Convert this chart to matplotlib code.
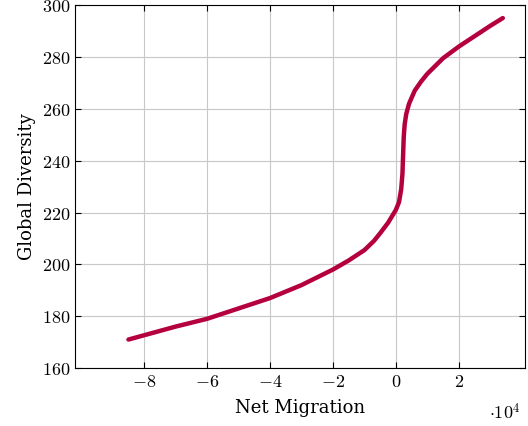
import matplotlib
matplotlib.use("Agg")
import matplotlib.pyplot as plt

plt.rcParams['mathtext.fontset'] = 'cm'
plt.rcParams['font.family'] = ['DejaVu Serif']

x_vals = [-8.5, -7, -6, -5, -4, -3, -2, -1.5, -1, -0.7, -0.5, -0.25, 0, 0.1, 0.17, 0.21, 0.23, 0.25, 0.28, 0.33, 0.42, 0.6, 0.8, 1.0, 1.5, 2.0, 2.5, 3.0, 3.4]
y_vals = [171, 176, 179, 183, 187, 192, 198, 201.5, 205.5, 209, 212, 216, 221, 224, 229, 235, 242, 249, 254, 258, 262, 267, 270.5, 273.5, 279.5, 284, 288, 292, 295]
x_ticks = [-8, -6, -4, -2, 0, 2]
y_ticks = [160, 180, 200, 220, 240, 260, 280, 300]

fig = plt.figure(figsize=(5.28, 4.26), dpi=100)
ax = fig.add_axes([0.142, 0.136, 0.852, 0.852])
ax.plot(x_vals, y_vals, color='#b5003f', lw=3.2, solid_capstyle='round', solid_joinstyle='round')
ax.set_xlim(-10.2, 4.1)
ax.set_ylim(160, 300)
ax.set_xticks(x_ticks)
ax.set_xticklabels([f'${v}$' for v in x_ticks], fontsize=13)
ax.set_yticks(y_ticks)
ax.set_yticklabels([f'${v}$' for v in y_ticks], fontsize=13)
ax.grid(True, color='#c8c8c8', lw=0.8)
ax.tick_params(direction='in', length=4, top=True, right=True)
ax.set_xlabel('Net Migration', fontsize=13, labelpad=6)
ax.set_ylabel('Global Diversity', fontsize=13)
ax.text(0.99, -0.095, r'$\cdot 10^4$', transform=ax.transAxes, ha='right', va='top', fontsize=13)
fig.savefig('out.png', dpi=100)
